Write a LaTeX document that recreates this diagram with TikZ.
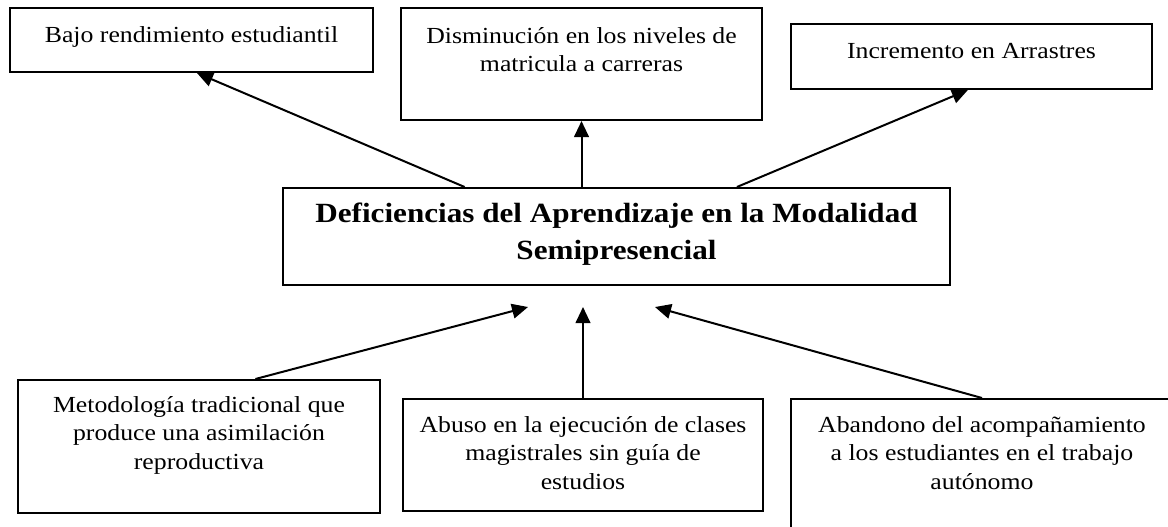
\documentclass[tikz,border=0pt]{standalone}
\usepackage{fontspec}
\setmainfont{Liberation Serif}[FakeStretch=1.12]
\usetikzlibrary{arrows.meta,calc}
\tikzset{
  box/.style={draw, line width=1.5pt, rectangle, inner sep=0pt},
  txt/.style={anchor=base, inner sep=0pt, font=\fontsize{17.25}{21.4}\selectfont},
  ttl/.style={anchor=base, inner sep=0pt, font=\bfseries\fontsize{20.85}{28.1}\selectfont},
  arr/.style={line width=1.5pt, -{Triangle[length=12pt,width=11pt]}},
}
\newcommand{\ctext}[1]{\parbox[t]{420pt}{\centering #1}}
\newcommand{\wtext}[1]{\parbox[t]{640pt}{\centering #1}}
\begin{document}
\begin{tikzpicture}[x=0.75pt,y=-0.75pt]
\clip (0,0) rectangle (1168,526);
% boxes
\node[box, minimum width=272.25pt, minimum height=48pt]    (b1) at (191.5,40) {};
\node[box, minimum width=270.75pt, minimum height=84pt]    (b2) at (581.5,64) {};
\node[box, minimum width=270.75pt, minimum height=48.75pt] (b3) at (971.5,56.5) {};
\node[box, minimum width=500.25pt, minimum height=72.75pt] (c)  at (616.5,236.5) {};
\node[box, minimum width=271.5pt,  minimum height=99.75pt] (b5) at (199,446.5) {};
\node[box, minimum width=270pt,    minimum height=84pt]    (b6) at (583,455) {};
\node[box, minimum width=286.5pt,  minimum height=109.5pt] (b7) at (982,472) {};
% texts
\node[txt] (t1) at ($(b1.north)+(0,35)$) {\ctext{Bajo rendimiento estudiantil}};
\node[txt] (t2) at ($(b2.north)+(0,36)$) {\ctext{Disminución en los niveles de\\matricula a carreras}};
\node[txt] (t3) at ($(b3.north)+(0,35)$) {\ctext{Incremento en Arrastres}};
\node[ttl] (tc) at ($(c.north)+(0,35)$) {\wtext{Deficiencias del Aprendizaje en la Modalidad\\Semipresencial}};
\node[txt] (t5) at ($(b5.north)+(0,33)$) {\ctext{Metodología tradicional que\\produce una asimilación\\reproductiva}};
\node[txt] (t6) at ($(b6.north)+(0,34)$) {\ctext{Abuso en la ejecución de clases\\magistrales sin guía de\\estudios}};
\node[txt] (t7) at ($(b7.north)+(0,34)$) {\ctext{Abandono del acompañamiento\\a los estudiantes en el trabajo\\autónomo}};
% free arrow ends
\coordinate (p1) at (528,307);
\coordinate (p2) at (583,307);
\coordinate (p3) at (655,307);
% upper arrows
\draw[arr] ($(c.north west)!0.273!(c.north east)$) -- ($(b1.south west)!0.515!(b1.south east)$);
\draw[arr] (c.north -| b2.south) -- (b2.south);
\draw[arr] ($(c.north west)!0.68!(c.north east)$) -- ($(b3.south west)!0.49!(b3.south east)$);
% lower arrows
\draw[arr] ($(b5.north west)!0.655!(b5.north east)$) -- (p1);
\draw[arr] (b6.north) -- (p2);
\draw[arr] (b7.north) -- (p3);
\end{tikzpicture}
\end{document}
